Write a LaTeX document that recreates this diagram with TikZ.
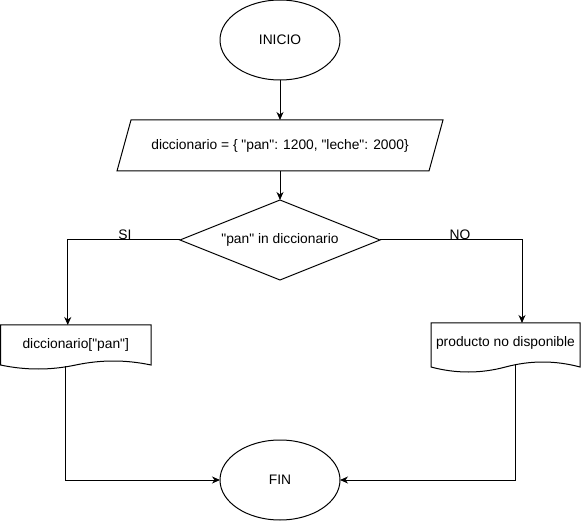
\documentclass[tikz,border=0pt]{standalone}
\usepackage{fontspec}
\setmainfont{Liberation Sans}[Ligatures=TeXOff]
\usetikzlibrary{shapes.geometric,arrows.meta,calc}

% straight double quote
\newcommand{\dq}{\char34\relax}

\tikzset{
  every node/.style={font=\fontsize{13.8}{16}\selectfont, outer sep=0pt},
  shapeline/.style={draw=black, line width=1pt},
  terminal/.style={ellipse, shapeline, minimum width=120pt, minimum height=80pt, inner sep=0pt},
  decision/.style={diamond, shapeline, aspect=2.5, minimum width=200pt, minimum height=80pt, inner sep=0pt},
  iobox/.style={rectangle, draw=none, minimum width=312pt, minimum height=51pt, inner sep=0pt},
  docbox/.style={rectangle, draw=none, minimum height=40pt, inner sep=0pt, anchor=north west},
  flow/.style={line width=1pt, -{Stealth[length=8pt,width=7pt,inset=2.5pt]}},
  edgelabel/.style={anchor=base, inner sep=0pt}
}

% document symbol: flat top, wavy bottom; #1 node, #2 depth of the wave ends, #3 wave amplitude
\newcommand{\docoutline}[3]{%
  \draw[shapeline] let \p1=(#1.north west), \p2=(#1.north east), \n1={\x2-\x1} in
    (\x1,\y1) -- (\x2,\y1) -- (\x2,\y1-#2)
    .. controls (\x2-\n1/6,\y1-#2+4*#3/3) and (\x2-\n1/3,\y1-#2+4*#3/3) .. (\x1+\n1/2,\y1-#2)
    .. controls (\x1+\n1/3,\y1-#2-4*#3/3) and (\x1+\n1/6,\y1-#2-4*#3/3) .. (\x1,\y1-#2) -- cycle;}

\begin{document}
\begin{tikzpicture}[x=1pt, y=-1pt]
  \useasboundingbox (0,0) rectangle (581,521);

  % start
  \node[terminal] (inicio) at (280,40) {INICIO};

  % input: the dictionary
  \node[iobox] (dict) at (280,145.5) {diccionario = \{ \dq pan\dq: 1200, \dq leche\dq: 2000\}};
  \draw[shapeline] ([xshift=7pt]dict.north west) -- ([xshift=7pt]dict.north east)
    -- ([xshift=-7pt]dict.south east) -- ([xshift=-7pt]dict.south west) -- cycle;

  % decision
  \node[decision] (cond) at (280,240) {\dq pan\dq{} in diccionario};

  % outputs
  \node[docbox, minimum width=150.5pt] (docsi) at (0.5,325) {diccionario[\dq pan\dq]};
  \docoutline{docsi}{40pt}{4pt}
  \node[docbox, minimum width=149pt] (docno) at (431,323) {producto no disponible};
  \docoutline{docno}{44pt}{5pt}

  % end
  \node[terminal] (fin) at (280,480) {FIN};

  % connectors
  \draw[flow] (inicio) -- (dict);
  \draw[flow] (dict.south) -- (cond.north);
  \draw[flow] (cond.west) -| ([xshift=-8pt]docsi.north);
  \draw[flow] (cond.east) -| ([xshift=16.5pt]docno.north);
  \node[edgelabel] (lblsi) at (125,240) {SI};
  \node[edgelabel] (lblno) at (460,240) {NO};

  \coordinate (siout) at (65,366);
  \coordinate (noout) at (515,365);
  \draw[flow] (siout) |- (fin.west);
  \draw[flow] (noout) |- (fin.east);
\end{tikzpicture}
\end{document}
